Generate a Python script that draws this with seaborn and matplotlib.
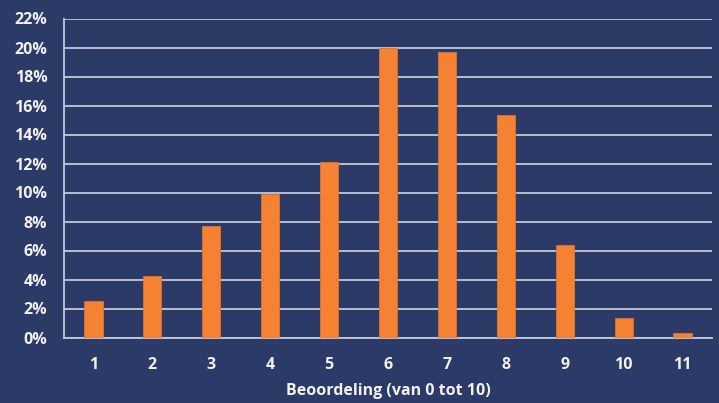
import matplotlib
matplotlib.use("Agg")
import matplotlib.pyplot as plt
import seaborn as sns
import pandas as pd
from matplotlib.ticker import FuncFormatter, MultipleLocator

categories = ["1", "2", "3", "4", "5", "6", "7", "8", "9", "10", "11"]
values = [2.52, 4.22, 7.71, 9.88, 12.12, 19.94, 19.71, 15.32, 6.36, 1.34, 0.33]
xlabel = "Beoordeling (van 0 tot 10)"

bg = "#2B3A67"
bar_color = "#F58233"
grid_color = "#C3C8D6"

sns.set_theme(style="white")
plt.rcParams["font.family"] = ["Open Sans", "DejaVu Sans"]

df = pd.DataFrame({"cat": categories, "val": values})

fig = plt.figure(figsize=(7.19, 4.03), dpi=100, facecolor=bg)
ax = fig.add_axes([64/719, 1 - 337.5/403, (712-64)/719, (337.5-18.5)/403])
ax.set_facecolor(bg)

sns.barplot(data=df, x="cat", y="val", color=bar_color, width=0.31,
            saturation=1, ax=ax, zorder=3, edgecolor="#E0742C", linewidth=0.6)

ax.set_ylim(0, 22)
ax.set_xlim(-0.5, 10.5)
ax.yaxis.set_major_locator(MultipleLocator(2))
ax.yaxis.set_major_formatter(FuncFormatter(lambda v, p: f"{v:.0f}%"))
ax.grid(axis="y", color=grid_color, linewidth=1.3, zorder=0)
ax.grid(axis="x", visible=False)

for s in ["top", "right"]:
    ax.spines[s].set_visible(False)
ax.spines["left"].set_color(grid_color)
ax.spines["left"].set_linewidth(1.3)
ax.spines["bottom"].set_color(grid_color)
ax.spines["bottom"].set_linewidth(1.3)

ax.tick_params(axis="both", length=0, colors="white", labelsize=11.5)
ax.tick_params(axis="y", pad=12)
ax.tick_params(axis="x", pad=14)
for lbl in ax.get_xticklabels() + ax.get_yticklabels():
    lbl.set_fontweight("bold")
    lbl.set_color("#F2F2F2")

ax.set_ylabel("")
ax.set_xlabel(xlabel, color="#F2F2F2", fontsize=11.5, fontweight="bold", labelpad=7)

fig.savefig("out.png", dpi=100, facecolor=bg)
